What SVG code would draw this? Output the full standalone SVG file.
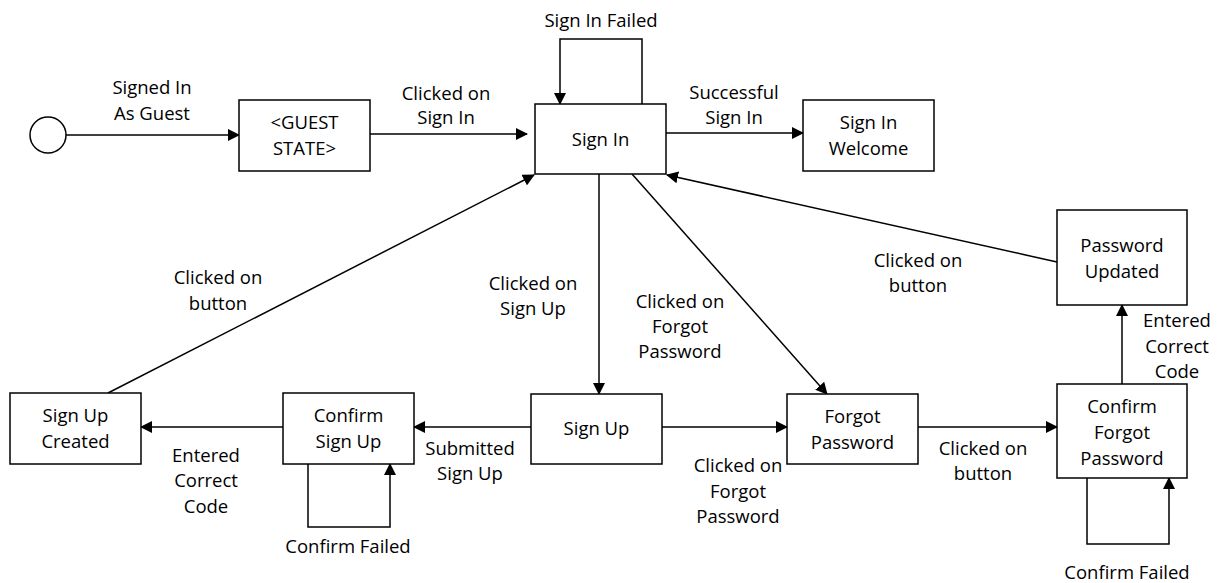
<svg xmlns="http://www.w3.org/2000/svg" width="1217" height="583" viewBox="0 0 1217 583">
<style>
  .box { fill: #ffffff; stroke: #000000; stroke-width: 1.5; }
  .t { font-family: "Open Sans", "Liberation Sans", sans-serif; font-size: 18.5px; fill: #000000; text-anchor: middle; }
  .c { fill: none; stroke: #000000; stroke-width: 1.5; }
  .a { marker-end: url(#arr); }
</style>
<defs>
  <marker id="arr" markerUnits="userSpaceOnUse" markerWidth="12" markerHeight="12" refX="11" refY="6" orient="auto">
    <path d="M0,0 L12,6 L0,12 Z" fill="#000000"/>
  </marker>
</defs>
<rect width="1217" height="583" fill="#ffffff"/>

<g id="connectors">
  <line class="c a" x1="66" y1="135" x2="239" y2="135"/>
  <line class="c a" x1="370" y1="134" x2="527" y2="134"/>
  <path class="c a" d="M642,104 V39 H560 V104"/>
  <line class="c a" x1="666" y1="133" x2="803" y2="133"/>
  <line class="c a" x1="599" y1="174" x2="599" y2="394"/>
  <line class="c a" x1="632" y1="174" x2="827" y2="394"/>
  <line class="c a" x1="1057" y1="262" x2="667" y2="175"/>
  <line class="c a" x1="108" y1="393" x2="534" y2="175"/>
  <line class="c a" x1="531" y1="427" x2="414" y2="427"/>
  <line class="c a" x1="283" y1="427" x2="141" y2="427"/>
  <path class="c a" d="M308,464 V527 H390 V464"/>
  <line class="c a" x1="662" y1="427" x2="787" y2="427"/>
  <line class="c a" x1="918" y1="427" x2="1057" y2="427"/>
  <line class="c a" x1="1122" y1="384" x2="1122" y2="305"/>
  <path class="c a" d="M1087,478 V544 H1169 V478"/>
</g>

<g id="labels">
  <text class="t" x="152" y="94">Signed In</text>
  <text class="t" x="152" y="120">As Guest</text>
  <text class="t" x="446" y="100">Clicked on</text>
  <text class="t" x="446" y="124">Sign In</text>
  <text class="t" x="601" y="27">Sign In Failed</text>
  <text class="t" x="734" y="99">Successful</text>
  <text class="t" x="734" y="124">Sign In</text>
  <text class="t" x="218" y="284">Clicked on</text>
  <text class="t" x="218" y="310">button</text>
  <text class="t" x="533" y="290">Clicked on</text>
  <text class="t" x="533" y="315">Sign Up</text>
  <text class="t" x="680" y="308">Clicked on</text>
  <text class="t" x="680" y="333">Forgot</text>
  <text class="t" x="680" y="358">Password</text>
  <text class="t" x="918" y="267">Clicked on</text>
  <text class="t" x="918" y="292">button</text>
  <text class="t" x="206" y="462">Entered</text>
  <text class="t" x="206" y="487">Correct</text>
  <text class="t" x="206" y="513">Code</text>
  <text class="t" x="470" y="455">Submitted</text>
  <text class="t" x="470" y="480">Sign Up</text>
  <text class="t" x="348" y="553">Confirm Failed</text>
  <text class="t" x="738" y="472">Clicked on</text>
  <text class="t" x="738" y="498">Forgot</text>
  <text class="t" x="738" y="523">Password</text>
  <text class="t" x="983" y="455">Clicked on</text>
  <text class="t" x="983" y="480">button</text>
  <text class="t" x="1177" y="327">Entered</text>
  <text class="t" x="1177" y="353">Correct</text>
  <text class="t" x="1177" y="378">Code</text>
  <text class="t" x="1127" y="579">Confirm Failed</text>
</g>

<g id="start">
  <circle cx="48" cy="135" r="18" fill="#ffffff" stroke="#000000" stroke-width="1.5"/>
</g>
<g id="guest">
  <rect class="box" x="239" y="100" width="131" height="71"/>
  <text class="t" x="304.5" y="129">&lt;GUEST</text>
  <text class="t" x="304.5" y="155">STATE&gt;</text>
</g>
<g id="signin">
  <rect class="box" x="535" y="104" width="131" height="70"/>
  <text class="t" x="600.5" y="146">Sign In</text>
</g>
<g id="welcome">
  <rect class="box" x="803" y="100" width="131" height="71"/>
  <text class="t" x="868.5" y="129">Sign In</text>
  <text class="t" x="868.5" y="155">Welcome</text>
</g>
<g id="signupcreated">
  <rect class="box" x="10" y="393" width="131" height="71"/>
  <text class="t" x="75.5" y="422">Sign Up</text>
  <text class="t" x="75.5" y="448">Created</text>
</g>
<g id="confirmsignup">
  <rect class="box" x="283" y="393" width="131" height="71"/>
  <text class="t" x="348.5" y="422">Confirm</text>
  <text class="t" x="348.5" y="448">Sign Up</text>
</g>
<g id="signup">
  <rect class="box" x="531" y="394" width="131" height="70"/>
  <text class="t" x="596.5" y="435">Sign Up</text>
</g>
<g id="forgot">
  <rect class="box" x="787" y="394" width="131" height="70"/>
  <text class="t" x="852.5" y="423">Forgot</text>
  <text class="t" x="852.5" y="449">Password</text>
</g>
<g id="confirmforgot">
  <rect class="box" x="1057" y="384" width="130" height="94"/>
  <text class="t" x="1122" y="413">Confirm</text>
  <text class="t" x="1122" y="439">Forgot</text>
  <text class="t" x="1122" y="465">Password</text>
</g>
<g id="pwupdated">
  <rect class="box" x="1057" y="210" width="130" height="95"/>
  <text class="t" x="1122" y="252">Password</text>
  <text class="t" x="1122" y="278">Updated</text>
</g>
</svg>
